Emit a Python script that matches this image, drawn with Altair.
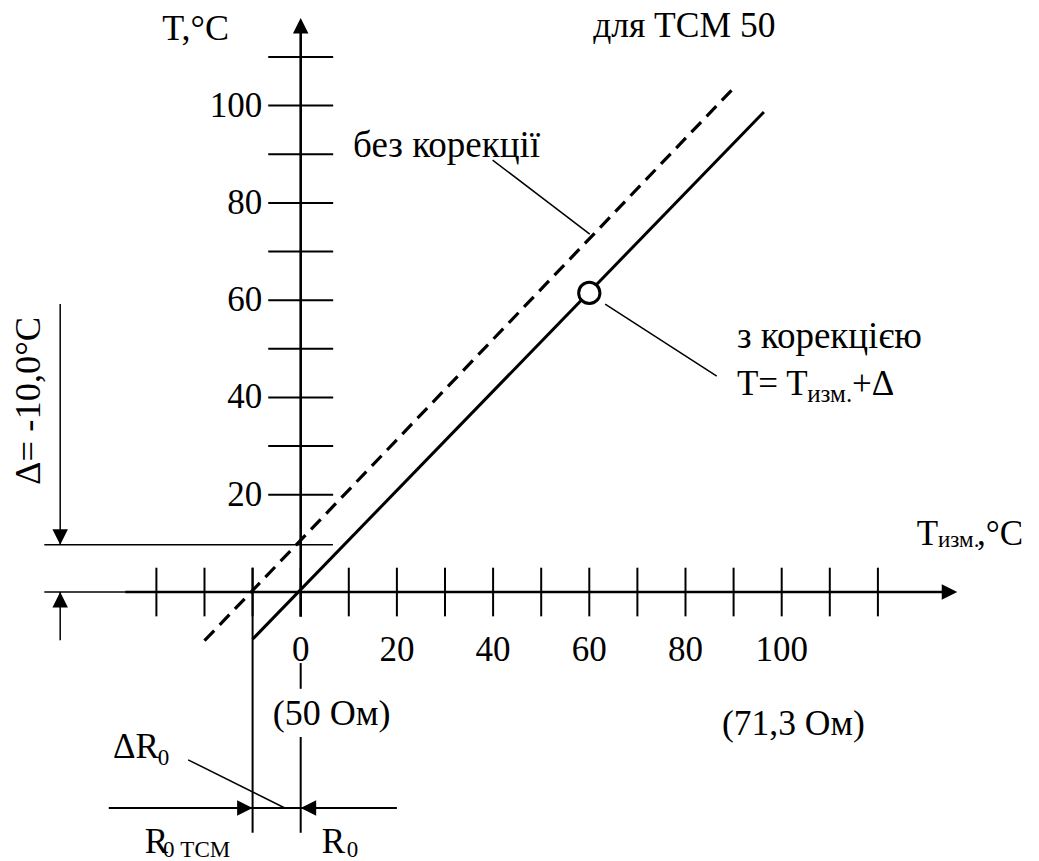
import altair as alt
import pandas as pd

FONT = "Liberation Serif"
W, H = 1023, 851
X_DOMAIN = [-60.85, 151.83]
Y_DOMAIN = [120.07 - 851 / 4.864, 120.07]

# ---- axis ticks and tick labels (diagram units, °C)
x_ticks = [-30, -20, -10, 0, 10, 20, 30, 40, 50, 60, 70, 80, 90, 100, 110, 120]
x_labels = [0, 20, 40, 60, 80, 100]
y_ticks = [20, 30, 40, 50, 60, 70, 80, 90, 100, 110]
y_labels = [20, 40, 60, 80, 100]

# ---- characteristic lines T = f(T_изм)
no_corr_x = [-20, 90]
no_corr_y = [-10, 103.6]
corr_x = [-10, 96.3]
corr_y = [-9.7, 98.7]
marker_x = [60]
marker_y = [61.5]

# ---- construction levels
delta_level = 9.7          # T level of uncorrected line at T_изм = 0
r0_tcm = -10               # T_изм of R0 TCM
r0_level = -44.4           # level of the R0 dimension line
x_axis_from, x_axis_tip = -36.5, 136.5
y_axis_from, y_axis_tip = -5.1, 118.0
x_tick_half, y_tick_half = 5.0, 6.75

# segments: (x1, y1, x2, y2)
axis_segments = [(x_axis_from, 0, x_axis_tip - 2, 0), (0, y_axis_from, 0, y_axis_tip - 2)]
tick_segments = [(t, -x_tick_half, t, x_tick_half) for t in x_ticks] + \
                [(-y_tick_half, t, y_tick_half, t) for t in y_ticks]
thin_segments = [
    (-53.3, delta_level, 6.7, delta_level),
    (-53.3, 0, x_axis_from, 0),
    (-50, 59.2, -50, delta_level),
    (-50, 0, -50, -9.9),
    (39.9, 88.8, 60.1, 73.6),
    (63.3, 59.2, 86.5, 44.4),
    (-23.4, -34.5, -3.3, r0_level),
]
medium_segments = [
    (r0_tcm, x_tick_half, r0_tcm, -49.5),
    (0, -14.6, 0, -19.9),
    (0, -29.8, 0, -49.5),
    (-39.9, r0_level, 20.0, r0_level),
]

# arrowheads: (tip x, tip y, direction)
arrow_heads = [
    (0, y_axis_tip, "up"),
    (x_axis_tip, 0, "right"),
    (-50, delta_level, "down"),
    (-50, 0, "up"),
    (r0_tcm, r0_level, "right"),
    (0, r0_level, "left"),
]
ARROW_PATHS = {
    "up": "M0,0L-1,2L1,2Z",
    "down": "M0,0L-1,-2L1,-2Z",
    "right": "M0,0L-2,-1L-2,1Z",
    "left": "M0,0L2,-1L2,1Z",
}

# texts: (text, x, y, font size)
left_texts = [
    ("T,°C", -28.8, 113.5, 36),
    ("для ТСМ 50", 60.8, 114.1, 35.5),
    ("без корекції", 10.9, 89.4, 37),
    ("з корекцією", 90.7, 50.2, 37),
    ("T= T", 90.7, 40.5, 35),
    ("изм.", 105.3, 39.1, 25),
    ("+Δ", 114.6, 40.5, 35),
    ("T", 128.1, 9.66, 35),
    ("изм.", 132.5, 9.25, 23),
    (",°C", 140.6, 9.66, 35),
    ("(50 Ом)", -5.8, -27.3, 36),
    ("(71,3 Ом)", 87.6, -29.4, 35.5),
    ("ΔR", -39.0, -34.1, 35),
    ("0", -29.7, -35.6, 23),
    ("R", -32.4, -53.7, 35),
    ("0 ТСМ", -28.6, -54.5, 23),
    ("R", 4.4, -53.7, 35),
    ("0", 9.6, -54.5, 23),
]
delta_text = [("Δ= -10,0°C", -54.2, 39.3, 36.5)]

xs = alt.Scale(domain=X_DOMAIN, nice=False, zero=False)
ys = alt.Scale(domain=Y_DOMAIN, nice=False, zero=False)


def seg_df(segs):
    return pd.DataFrame(segs, columns=["x", "y", "x2", "y2"])


def rules(segs, width, dash=None):
    kw = dict(color="black", strokeWidth=width)
    if dash:
        kw["strokeDash"] = dash
    return alt.Chart(seg_df(segs)).mark_rule(**kw).encode(
        x=alt.X("x:Q", scale=xs, axis=None),
        y=alt.Y("y:Q", scale=ys, axis=None),
        x2="x2:Q",
        y2="y2:Q",
    )


def texts(rows, align, baseline="alphabetic", angle=0):
    df = pd.DataFrame(rows, columns=["text", "x", "y", "size"])
    return alt.Chart(df).mark_text(
        font=FONT, color="black", align=align, baseline=baseline, angle=angle
    ).encode(
        x=alt.X("x:Q", scale=xs, axis=None),
        y=alt.Y("y:Q", scale=ys, axis=None),
        text="text:N",
        size=alt.Size("size:Q", scale=None),
    )


layers = [
    rules(axis_segments, 2.6),
    rules(tick_segments, 2),
    rules(thin_segments, 1.5),
    rules(medium_segments, 2),
    rules([(no_corr_x[0], no_corr_y[0], no_corr_x[1], no_corr_y[1])], 3.2, [14, 8]),
    rules([(corr_x[0], corr_y[0], corr_x[1], corr_y[1])], 3),
]

arrow_df = pd.DataFrame(arrow_heads, columns=["x", "y", "dir"])
arrow_df["shape"] = arrow_df["dir"].map(ARROW_PATHS)
layers.append(
    alt.Chart(arrow_df).mark_point(filled=True, color="black", opacity=1, size=240, strokeWidth=0).encode(
        x=alt.X("x:Q", scale=xs, axis=None),
        y=alt.Y("y:Q", scale=ys, axis=None),
        shape=alt.Shape("shape:N", scale=None),
    )
)

marker_df = pd.DataFrame({"x": marker_x, "y": marker_y})
layers.append(
    alt.Chart(marker_df).mark_point(
        shape="circle", size=452, filled=True, fill="white", stroke="black",
        strokeWidth=3, opacity=1, fillOpacity=1, strokeOpacity=1
    ).encode(
        x=alt.X("x:Q", scale=xs, axis=None),
        y=alt.Y("y:Q", scale=ys, axis=None),
    )
)

# tick labels
xl = [(str(v), v, -14.2, 35) for v in x_labels]
yl = [(str(v), -8.0, v, 35) for v in y_labels]
layers.append(texts(xl, "center"))
layers.append(texts(yl, "right", baseline="middle"))
layers.append(texts(left_texts, "left"))
layers.append(texts(delta_text, "center", angle=270))

chart = alt.layer(*layers).properties(
    width=W, height=H, autosize=alt.AutoSizeParams(type="none"), padding=0
).configure_view(stroke=None)

chart.save("out.html", embed_options={"renderer": "svg", "actions": False})
